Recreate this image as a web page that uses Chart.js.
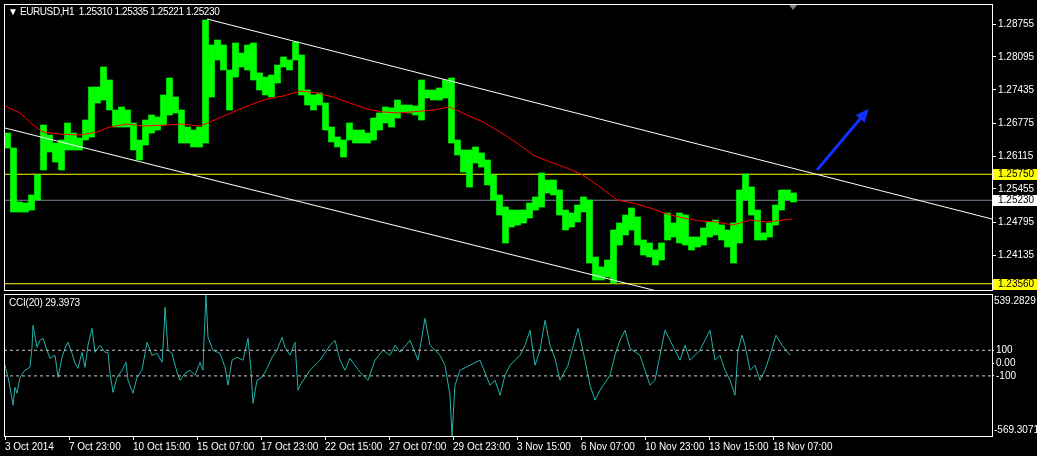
<!DOCTYPE html>
<html>
<head>
<meta charset="utf-8">
<script src="https://cdn.jsdelivr.net/npm/chart.js@4.4.1/dist/chart.umd.min.js"></script>
<style>
  html, body { margin: 0; padding: 0; background: #000; }
  #wrap { position: relative; width: 1037px; height: 456px; background: #000; overflow: hidden; }
  canvas { position: absolute; left: 0; }
  #main { top: 0; }
  #cci { top: 292px; }
  .lbl { position: absolute; color: #fff; font: 10px "Liberation Sans", Arial, sans-serif; white-space: pre; }
  #title { letter-spacing: -0.4px; }
  #cciTitle { letter-spacing: -0.2px; }
</style>
</head>
<body>
<div id="wrap">
  <canvas id="main" width="1037" height="292"></canvas>
  <canvas id="cci" width="1037" height="164"></canvas>
  <div class="lbl" id="title" style="left:8px;top:6px">▼ EURUSD,H1  1.25310 1.25335 1.25221 1.25230</div>
  <div class="lbl" id="cciTitle" style="left:9px;top:297px">CCI(20) 29.3973</div>
</div>
<script>
// ---- data ----
// hourly bars grouped 6 at a time: high / low of each group
const SEG = 6;
const priceHigh = [
  1.26575, 1.26275, 1.25195, 1.25175, 1.25335, 1.25735, 1.26735, 1.26535, 1.26375, 1.26435,
  1.26775, 1.26575, 1.26475, 1.26835, 1.27495, 1.27495, 1.27895, 1.27635, 1.27035, 1.27095,
  1.27035, 1.26775, 1.26435, 1.26835, 1.26935, 1.26895, 1.27335, 1.27675, 1.27295, 1.27035,
  1.26695, 1.26635, 1.26695, 1.28835, 1.28335, 1.28435, 1.28335, 1.27835, 1.28375, 1.28175,
  1.28335, 1.28375, 1.27775, 1.27695, 1.27735, 1.27935, 1.28095, 1.28035, 1.28395, 1.28135,
  1.27435, 1.27335, 1.27375, 1.27175, 1.26695, 1.26495, 1.26435, 1.26775, 1.26635, 1.26635,
  1.26575, 1.26875, 1.26975, 1.27095, 1.27075, 1.27235, 1.27135, 1.27135, 1.27115, 1.27635,
  1.27435, 1.27435, 1.27475, 1.27635, 1.27675, 1.26435, 1.26235, 1.26235, 1.26295, 1.26175,
  1.26035, 1.25735, 1.25335, 1.25095, 1.25035, 1.25035, 1.25035, 1.25175, 1.25295, 1.25775,
  1.25635, 1.25635, 1.25435, 1.25035, 1.24975, 1.25135, 1.25295, 1.25235, 1.24095, 1.23895,
  1.24035, 1.24635, 1.24775, 1.24935, 1.25075, 1.24895, 1.24435, 1.24375, 1.24235, 1.24375,
  1.24975, 1.24775, 1.24975, 1.24935, 1.24495, 1.24495, 1.24675, 1.24795, 1.24835, 1.24735,
  1.24635, 1.24775, 1.25435, 1.25755, 1.25495, 1.25035, 1.24575, 1.24775, 1.25135, 1.25435,
  1.25435, 1.25375
];
const priceLow = [
  1.26275, 1.24995, 1.24995, 1.24995, 1.25035, 1.25235, 1.25835, 1.26195, 1.25995, 1.25835,
  1.26235, 1.26235, 1.26235, 1.26435, 1.26495, 1.27175, 1.27235, 1.27035, 1.26695, 1.26695,
  1.26695, 1.26235, 1.26035, 1.26335, 1.26575, 1.26635, 1.26735, 1.26935, 1.26975, 1.26375,
  1.26375, 1.26295, 1.26295, 1.26375, 1.27295, 1.28035, 1.27835, 1.27035, 1.27695, 1.27895,
  1.27835, 1.27635, 1.27435, 1.27335, 1.27295, 1.27575, 1.27895, 1.27835, 1.28035, 1.27335,
  1.27135, 1.27035, 1.27135, 1.26635, 1.26395, 1.26295, 1.26095, 1.26435, 1.26375, 1.26375,
  1.26375, 1.26435, 1.26635, 1.26775, 1.26695, 1.26875, 1.26995, 1.26975, 1.26935, 1.26835,
  1.27275, 1.27235, 1.27235, 1.27275, 1.26375, 1.26135, 1.25795, 1.25495, 1.25975, 1.25895,
  1.25535, 1.25235, 1.24935, 1.24375, 1.24695, 1.24735, 1.24775, 1.24875, 1.25035, 1.25095,
  1.25375, 1.25335, 1.24935, 1.24635, 1.24695, 1.24795, 1.24995, 1.23975, 1.23635, 1.23635,
  1.23695, 1.23575, 1.24335, 1.24535, 1.24635, 1.24335, 1.24135, 1.24095, 1.23935, 1.24035,
  1.24435, 1.24495, 1.24375, 1.24335, 1.24235, 1.24295, 1.24335, 1.24495, 1.24535, 1.24435,
  1.24295, 1.23975, 1.24375, 1.25235, 1.24935, 1.24435, 1.24435, 1.24495, 1.24735, 1.25035,
  1.25235, 1.25195
];

// moving average (red), bar index -> price
const maBars = [0, 15, 28, 38, 55, 75, 92, 105, 122, 138, 162, 175, 195, 212, 228, 245, 262, 278,
  295, 312, 328, 345, 362, 378, 395, 428, 445, 462, 478, 495, 512, 528, 545, 562, 578, 595, 612,
  628, 645, 662, 678, 695, 712, 728, 745, 762, 778, 787];
const maVals = [1.27115, 1.26975, 1.26735, 1.26595, 1.26555, 1.26535, 1.26595, 1.26695, 1.26755,
  1.26715, 1.26735, 1.26755, 1.26715, 1.26855, 1.26995, 1.27135, 1.27255, 1.27315, 1.27415,
  1.27375, 1.27295, 1.27175, 1.27055, 1.26995, 1.26975, 1.27035, 1.27095, 1.26935, 1.26795,
  1.26595, 1.26375, 1.26135, 1.25995, 1.25875, 1.25735, 1.25495, 1.25235, 1.25175, 1.25075,
  1.24955, 1.24875, 1.24815, 1.24795, 1.24735, 1.24835, 1.24795, 1.24835, 1.24855];

// CCI(20), bar index -> value
const cciBars = [0, 3, 5, 8, 10, 12, 15, 20, 25, 27, 28, 32, 35, 38, 42, 45, 50, 53, 57, 60, 63, 67,
  70, 73, 77, 80, 83, 87, 90, 95, 100, 103, 105, 108, 112, 117, 121, 123, 128, 132, 137, 140, 142,
  147, 152, 157, 159, 160, 163, 167, 172, 175, 180, 185, 190, 195, 198, 199, 201, 203, 208, 215,
  220, 223, 227, 232, 238, 243, 246, 248, 252, 257, 262, 267, 272, 277, 280, 285, 290, 293,
  295, 305, 315, 325, 330, 335, 340, 345, 355, 363, 370, 378, 385, 390, 395, 405, 413, 420,
  425, 435, 440, 445, 447, 450, 455, 465, 475, 485, 490, 495, 500, 505, 515, 520, 525, 530,
  535, 540, 545, 550, 555, 563, 573, 580, 585, 590, 595, 605, 610, 615, 620, 625, 635, 640,
  645, 650, 655, 660, 665, 675, 680, 685, 695, 705, 710, 715, 720, 725, 730, 733, 737, 740,
  745, 750, 755, 760, 765, 771, 777, 785];
const cciVals = [-17, -111, -189, -329, -189, -236, -111, -56, -33, 123, 295, 123, 178, 193, 100,
  37, 61, -111, 45, 115, 162, 76, -2, -41, 84, -33, 139, 271, 84, 139, 84, 84, -80, -228, -111,
  -56, 6, -134, -236, -111, -56, 76, 162, 61, 76, 6, 256, 435, 100, 76, -72, -134, -80, -56, -95,
  6, -56, 178, 539, 201, 100, 76, -33, -173, 22, 45, 22, 193, -56, -314, -134, -111, -41, 45,
  100, 201, 123, 61, 162, -212, -173, -56, 22, 139, 178, 22, -56, 37, -72, -134, 22, 100, 61,
  139, 84, 178, 22, 349, 139, 61, -17, -251, -569, -173, -56, -17, 22, -173, -134, -251, -95,
  -17, 61, 139, 256, -17, 100, 334, 139, 37, -134, -17, 271, 22, -173, -290, -212, -95, 61,
  178, 256, 115, 61, -56, -173, -134, 61, 256, 178, 22, 139, 22, 100, 256, 22, 61, -56, -134,
  -251, 100, 217, 139, -56, -17, -134, -56, 61, 217, 139, 61];

const priceTicks = [1.28755, 1.28095, 1.27435, 1.26775, 1.26115, 1.25455, 1.24795, 1.24135];
const levelVals = [1.25750, 1.23560];       // yellow horizontal lines
const bidVal = 1.25230;                      // grey bid line
const channelUpper = [[202, 1.28855], [987, 1.24855]];
const channelLower = [[0, 1.26675], [660, 1.23375]];
const arrowLine = [[812, 1.25835], [861, 1.26995]];
const cciLevels = [100, -100];
const cciMax = 539.2829, cciMin = -569.3071;
const dateTicks = [0, 64, 128, 192, 256, 320, 384, 448, 512, 576, 640, 704, 768];
const dateLabels = ["3 Oct 2014", "7 Oct 23:00", "10 Oct 15:00", "15 Oct 07:00", "17 Oct 23:00",
  "22 Oct 15:00", "27 Oct 07:00", "29 Oct 23:00", "3 Nov 15:00", "6 Nov 07:00", "10 Nov 23:00",
  "13 Nov 15:00", "18 Nov 07:00"];

const X_MIN = -1, X_MAX = 987;
const FONT = { family: '"Liberation Sans", Arial, sans-serif', size: 10 };
const pts = arr => arr.map(p => ({ x: p[0], y: p[1] }));
const hline = v => [{ x: X_MIN, y: v }, { x: X_MAX, y: v }];
const noPad = s => { s.paddingTop = 0; s.paddingBottom = 0; s.paddingLeft = 0; s.paddingRight = 0; };

// frame + price boxes + arrow head
const mainDecor = {
  id: "mainDecor",
  afterDraw(chart) {
    const { ctx, chartArea: a, scales } = chart;
    const y = scales.y;
    ctx.save();
    ctx.strokeStyle = "#fff";
    ctx.lineWidth = 1;
    ctx.strokeRect(a.left + 0.5, a.top + 0.5, a.right - a.left, a.bottom - a.top);

    // arrow head
    const m = chart.getDatasetMeta(chart.data.datasets.findIndex(d => d.label === "arrow"));
    const p0 = m.data[0], p1 = m.data[1];
    const ang = Math.atan2(p1.y - p0.y, p1.x - p0.x);
    ctx.fillStyle = "#1030ff";
    ctx.translate(p1.x, p1.y);
    ctx.rotate(ang);
    ctx.beginPath();
    ctx.moveTo(4, 0); ctx.lineTo(-9, -6); ctx.lineTo(-9, 6); ctx.closePath();
    ctx.fill();
    ctx.setTransform(1, 0, 0, 1, 0, 0);

    // chart-shift marker
    const sx = scales.x.getPixelForValue(788);
    ctx.fillStyle = "#808080";
    ctx.beginPath();
    ctx.moveTo(sx - 4, a.top + 1); ctx.lineTo(sx + 4, a.top + 1); ctx.lineTo(sx, a.top + 6); ctx.closePath();
    ctx.fill();

    // price boxes on the axis
    ctx.font = '10px "Liberation Sans", Arial, sans-serif';
    ctx.textBaseline = "middle";
    const boxes = levelVals.map(v => [v, "#ffff00"]).concat([[bidVal, "#ffffff"]]);
    boxes.forEach(([v, c]) => {
      const py = Math.round(y.getPixelForValue(v));
      ctx.fillStyle = c;
      ctx.fillRect(a.right + 1, py - 5, 44, 11);
      ctx.fillStyle = "#000";
      ctx.fillText(v.toFixed(5), a.right + 6, py + 0.5);
    });
    ctx.restore();
  }
};

new Chart(document.getElementById("main"), {
  type: "bar",
  data: {
    datasets: [
      { type: "line", label: "lvl1", data: hline(levelVals[0]), borderColor: "#ffff00", borderWidth: 1, pointRadius: 0, order: 9 },
      { type: "line", label: "lvl2", data: hline(levelVals[1]), borderColor: "#ffff00", borderWidth: 1, pointRadius: 0, order: 9 },
      { type: "line", label: "bid", data: hline(bidVal), borderColor: "#778899", borderWidth: 1, pointRadius: 0, order: 9 },
      {
        label: "EURUSD",
        data: priceHigh.map((h, i) => ({ x: i * SEG + SEG / 2 - 0.5, y: [priceLow[i], h] })),
        backgroundColor: "#00ff00",
        borderWidth: 0,
        barThickness: SEG,
        order: 5
      },
      { type: "line", label: "ma", data: maBars.map((b, i) => ({ x: b, y: maVals[i] })), borderColor: "#ff0000", borderWidth: 1, pointRadius: 0, order: 3 },
      { type: "line", label: "chU", data: pts(channelUpper), borderColor: "#ffffff", borderWidth: 1, pointRadius: 0, order: 2 },
      { type: "line", label: "chL", data: pts(channelLower), borderColor: "#ffffff", borderWidth: 1, pointRadius: 0, order: 2 },
      { type: "line", label: "arrow", data: pts(arrowLine), borderColor: "#1030ff", borderWidth: 3, pointRadius: 0, order: 1 }
    ]
  },
  options: {
    responsive: false,
    animation: false,
    layout: { padding: { top: 4, left: 4, right: 0, bottom: 2 } },
    plugins: { legend: { display: false }, tooltip: { enabled: false } },
    scales: {
      x: { type: "linear", min: X_MIN, max: X_MAX, offset: false, display: false },
      y: {
        position: "right",
        min: 1.23435, max: 1.29155,
        afterBuildTicks: s => { s.ticks = priceTicks.map(v => ({ value: v })); },
        afterFit: s => { s.width = 45; noPad(s); },
        ticks: { color: "#fff", font: FONT, padding: 2, callback: v => v.toFixed(5) },
        grid: { drawOnChartArea: false, color: "#fff", tickLength: 4 },
        border: { color: "#fff" }
      }
    }
  },
  plugins: [mainDecor]
});

const cciDecor = {
  id: "cciDecor",
  afterDraw(chart) {
    const { ctx, chartArea: a } = chart;
    ctx.save();
    ctx.strokeStyle = "#fff";
    ctx.lineWidth = 1;
    ctx.strokeRect(a.left + 0.5, a.top + 0.5, a.right - a.left, a.bottom - a.top);
    ctx.fillStyle = "#fff";
    ctx.font = '10px "Liberation Sans", Arial, sans-serif';
    ctx.textBaseline = "top";
    ctx.fillText(cciMax.toFixed(4), a.right + 2, a.top + 2);
    ctx.textBaseline = "bottom";
    ctx.fillText(cciMin.toFixed(4), a.right + 2, a.bottom - 1);
    ctx.restore();
  }
};

new Chart(document.getElementById("cci"), {
  type: "line",
  data: {
    datasets: [
      { label: "+100", data: hline(cciLevels[0]), borderColor: "#c8c8c8", borderWidth: 1, borderDash: [3, 3], pointRadius: 0 },
      { label: "-100", data: hline(cciLevels[1]), borderColor: "#c8c8c8", borderWidth: 1, borderDash: [3, 3], pointRadius: 0 },
      { label: "CCI(20)", data: cciBars.map((b, i) => ({ x: b, y: cciVals[i] })), borderColor: "#20b2aa", borderWidth: 1, pointRadius: 0 }
    ]
  },
  options: {
    responsive: false,
    animation: false,
    layout: { padding: { top: 2, left: 4, right: 0, bottom: 0 } },
    plugins: { legend: { display: false }, tooltip: { enabled: false } },
    scales: {
      x: {
        type: "linear", min: X_MIN, max: X_MAX, offset: false,
        afterBuildTicks: s => { s.ticks = dateTicks.map(v => ({ value: v })); },
        afterFit: s => { s.height = 20; noPad(s); },
        ticks: {
          color: "#fff", font: FONT, align: "start", padding: 1, maxRotation: 0, autoSkip: false,
          callback: (v, i) => dateLabels[i]
        },
        grid: { drawOnChartArea: false, color: "#fff", tickLength: 4 },
        border: { color: "#fff" }
      },
      y: {
        position: "right",
        min: cciMin, max: cciMax,
        afterBuildTicks: s => { s.ticks = [100, 0, -100].map(v => ({ value: v })); },
        afterFit: s => { s.width = 45; noPad(s); },
        ticks: { color: "#fff", font: FONT, padding: 2, callback: v => (v === 0 ? "0.00" : String(v)) },
        grid: { drawOnChartArea: false, color: "#fff", tickLength: 2 },
        border: { color: "#fff" }
      }
    }
  },
  plugins: [cciDecor]
});
</script>
</body>
</html>
